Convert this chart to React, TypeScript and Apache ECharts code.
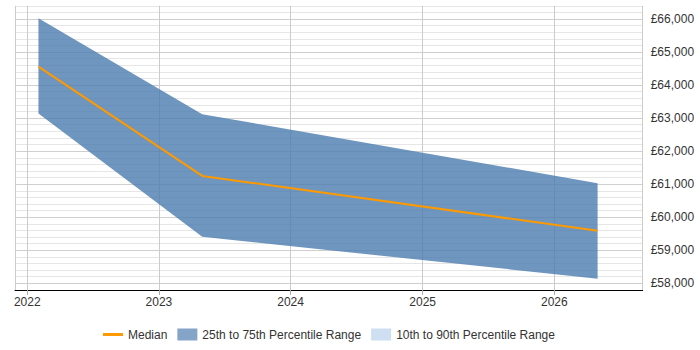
import React, { useEffect, useRef } from "react";
import * as echarts from "echarts";

const dates = ["2022-02-01", "2023-05-01", "2026-05-01"];
const upper = [66020, 63120, 61030];
const median = [64560, 61250, 59590];
const lower = [63140, 59410, 58140];

const seriesNames = ["Median", "25th to 75th Percentile Range", "10th to 90th Percentile Range"];

const FONT = "'Liberation Sans', Arial, sans-serif";
const LINE_ICON = "path://M0,0L0.01,0L0,0.01Z M20,12L19.99,12L20,11.99Z M0,4.6H20V7.4H0Z";

export default function App() {
  const ref = useRef<HTMLDivElement>(null);
  useEffect(() => {
    if (!ref.current) return;
    const chart = echarts.init(ref.current, null, { renderer: "svg" });
    const t = (d: string) => new Date(d + "T00:00:00Z").getTime();
    chart.setOption({
      animation: false,
      backgroundColor: "#fff",
      textStyle: { fontFamily: FONT },
      grid: { left: 15, right: 57.3, top: 5.8, bottom: 60.1, containLabel: false },
      legend: {
        left: 103,
        top: 328.5,
        padding: 0,
        itemGap: 10,
        itemWidth: 20,
        itemHeight: 12,
        textStyle: { fontFamily: FONT, fontSize: 12, color: "#333" },
        data: [
          { name: seriesNames[0], icon: LINE_ICON, itemStyle: { color: "#ff9900", borderWidth: 0 } },
          { name: seriesNames[1], icon: "rect", itemStyle: { color: "#84a5c8" } },
          { name: seriesNames[2], icon: "rect", itemStyle: { color: "#cddff0" } },
        ],
      },
      xAxis: {
        type: "time",
        min: t("2021-11-28"),
        max: t("2026-09-03"),
        minInterval: 365 * 86400000,
        axisLine: { show: true, lineStyle: { color: "#000", width: 1 } },
        axisTick: { show: true, length: 5, lineStyle: { color: "#aaa" } },
        axisLabel: {
          formatter: "{yyyy}",
          fontSize: 12,
          color: "#333",
          fontFamily: FONT,
          margin: 6,
          showMinLabel: false,
          showMaxLabel: false,
        },
        splitLine: { show: true, lineStyle: { color: "#cccccc", width: 1 } },
      },
      yAxis: {
        type: "value",
        position: "right",
        min: 57800,
        max: 66400,
        interval: 200,
        axisLine: { show: false },
        axisTick: { show: false },
        axisLabel: {
          fontSize: 12,
          color: "#333",
          fontFamily: FONT,
          margin: 8,
          formatter: (v: number) => {
            const r = Math.round(v);
            return r % 1000 === 0 ? "£" + r.toLocaleString("en-GB") : "";
          },
        },
        splitLine: {
          show: true,
          lineStyle: { color: ["#e6e6e6", "#cfcfcf", "#e6e6e6", "#e6e6e6", "#e6e6e6"], width: 1 },
        },
      },
      series: [
        {
          name: "lower",
          type: "line",
          stack: "band",
          symbol: "none",
          lineStyle: { opacity: 0 },
          data: dates.map((d, i) => [t(d), lower[i]]),
          silent: true,
        },
        {
          name: seriesNames[1],
          type: "line",
          stack: "band",
          symbol: "none",
          lineStyle: { opacity: 0 },
          itemStyle: { color: "#84a5c8" },
          areaStyle: { color: "rgba(75,124,174,0.8)", opacity: 1 },
          data: dates.map((d, i) => [t(d), upper[i] - lower[i]]),
          silent: true,
        },
        {
          name: seriesNames[0],
          type: "line",
          symbol: "none",
          itemStyle: { color: "#ff9900" },
          lineStyle: { color: "#ff9900", width: 2 },
          data: dates.map((d, i) => [t(d), median[i]]),
          z: 5,
        },
        {
          name: seriesNames[2],
          type: "line",
          symbol: "none",
          itemStyle: { color: "#cddff0" },
          data: [],
        },
      ],
    });
    return () => chart.dispose();
  }, []);
  return <div ref={ref} style={{ width: 700, height: 350, position: "absolute", left: 0, top: 0 }} />;
}
